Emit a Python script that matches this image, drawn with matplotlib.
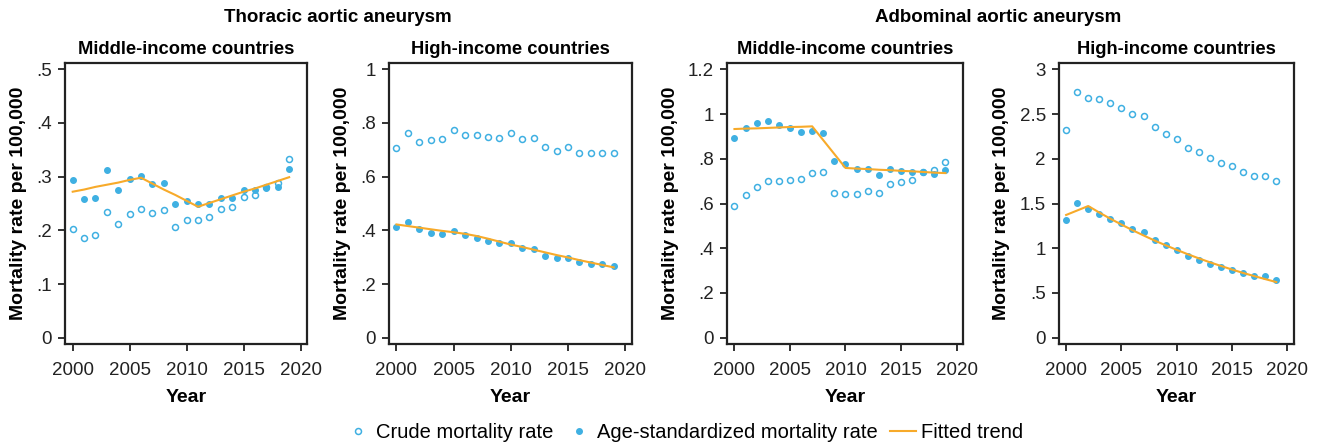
import matplotlib
matplotlib.use("Agg")
import matplotlib.pyplot as plt
from matplotlib.lines import Line2D

plt.rcParams['font.family'] = ['Liberation Sans', 'DejaVu Sans']

years = list(range(2000, 2020))

# Thoracic aortic aneurysm, middle-income countries
tm_crude = [0.203, 0.186, 0.191, 0.234, 0.211, 0.230, 0.239, 0.233, 0.237, 0.207,
            0.220, 0.220, 0.224, 0.240, 0.244, 0.263, 0.266, 0.280, 0.288, 0.333]
tm_age = [0.293, 0.258, 0.260, 0.312, 0.276, 0.295, 0.301, 0.286, 0.288, 0.250,
          0.255, 0.250, 0.249, 0.261, 0.260, 0.275, 0.275, 0.279, 0.280, 0.314]
tm_trend = [0.272, 0.276, 0.281, 0.285, 0.289, 0.294, 0.298, 0.287, 0.276, 0.266,
            0.255, 0.244, 0.251, 0.258, 0.265, 0.272, 0.278, 0.285, 0.292, 0.299]

# Thoracic aortic aneurysm, high-income countries
th_crude = [0.706, 0.763, 0.729, 0.738, 0.739, 0.774, 0.757, 0.757, 0.748, 0.743,
            0.763, 0.742, 0.744, 0.711, 0.697, 0.709, 0.687, 0.687, 0.689, 0.687]
th_age = [0.412, 0.431, 0.405, 0.391, 0.388, 0.398, 0.381, 0.373, 0.360, 0.352,
          0.352, 0.334, 0.330, 0.306, 0.296, 0.298, 0.283, 0.273, 0.275, 0.267]
th_trend = [0.422, 0.416, 0.410, 0.404, 0.398, 0.393, 0.387, 0.379, 0.369, 0.358,
            0.347, 0.338, 0.328, 0.318, 0.308, 0.299, 0.289, 0.280, 0.271, 0.262]

# Abdominal aortic aneurysm, middle-income countries
am_crude = [0.589, 0.638, 0.674, 0.701, 0.701, 0.707, 0.708, 0.735, 0.739, 0.645,
            0.643, 0.643, 0.657, 0.648, 0.686, 0.698, 0.705, 0.742, 0.750, 0.786]
am_age = [0.894, 0.936, 0.959, 0.969, 0.950, 0.936, 0.918, 0.926, 0.917, 0.792,
          0.777, 0.753, 0.753, 0.729, 0.754, 0.747, 0.739, 0.742, 0.730, 0.750]
am_trend = [0.933, 0.935, 0.936, 0.938, 0.940, 0.942, 0.943, 0.945, 0.883, 0.821,
            0.759, 0.756, 0.754, 0.751, 0.749, 0.746, 0.744, 0.741, 0.738, 0.736]

# Abdominal aortic aneurysm, high-income countries
ah_crude = [2.322, 2.743, 2.676, 2.665, 2.624, 2.572, 2.497, 2.482, 2.352, 2.274,
            2.218, 2.124, 2.080, 2.009, 1.953, 1.916, 1.852, 1.808, 1.808, 1.748]
ah_age = [1.316, 1.502, 1.439, 1.383, 1.331, 1.282, 1.211, 1.181, 1.088, 1.032,
          0.977, 0.913, 0.872, 0.824, 0.786, 0.760, 0.719, 0.690, 0.686, 0.648]
ah_trend = [1.372, 1.422, 1.472, 1.399, 1.330, 1.265, 1.202, 1.143, 1.086, 1.033,
            0.982, 0.933, 0.887, 0.843, 0.802, 0.762, 0.724, 0.689, 0.655, 0.622]

tm_ticks = [0, 0.1, 0.2, 0.3, 0.4, 0.5]
tm_labels = ['0', '.1', '.2', '.3', '.4', '.5']
th_ticks = [0, 0.2, 0.4, 0.6, 0.8, 1.0]
th_labels = ['0', '.2', '.4', '.6', '.8', '1']
am_ticks = [0, 0.2, 0.4, 0.6, 0.8, 1.0, 1.2]
am_labels = ['0', '.2', '.4', '.6', '.8', '1', '1.2']
ah_ticks = [0, 0.5, 1.0, 1.5, 2.0, 2.5, 3.0]
ah_labels = ['0', '.5', '1', '1.5', '2', '2.5', '3']
x_ticks = [2000, 2005, 2010, 2015, 2020]

blue = '#3fb0e2'
orange = '#f7aa2a'

panels = [
    ('Middle-income countries', tm_crude, tm_age, tm_trend, tm_ticks, tm_labels),
    ('High-income countries', th_crude, th_age, th_trend, th_ticks, th_labels),
    ('Middle-income countries', am_crude, am_age, am_trend, am_ticks, am_labels),
    ('High-income countries', ah_crude, ah_age, ah_trend, ah_ticks, ah_labels),
]
lefts = [0.0491, 0.2925, 0.5468, 0.7962]
widths = [0.182, 0.1827, 0.1774, 0.1767]

fig = plt.figure(figsize=(13.3, 4.46), dpi=100)

for (title, crude, age, trend, yt, yl), l, w in zip(panels, lefts, widths):
    ax = fig.add_axes([l, 0.228, w, 0.6314])
    ax.plot(years, crude, 'o', ms=4.3, mfc='white', mec=blue, mew=1.1, ls='none')
    ax.plot(years, age, 'o', ms=4.0, color=blue, ls='none')
    ax.plot(years, trend, color=orange, lw=1.5)
    top = yt[-1]
    ax.set_ylim(-0.0246 * top, 1.0246 * top)
    ax.set_xlim(1999.35, 2020.6)
    ax.set_yticks(yt)
    ax.set_yticklabels(yl)
    ax.set_xticks(x_ticks)
    ax.tick_params(labelsize=13.5, length=5, width=1.3, color='#222222',
                   labelcolor='#222222')
    ax.tick_params(axis='x', pad=8)
    ax.tick_params(axis='y', pad=4.5)
    for s in ax.spines.values():
        s.set_linewidth(1.6)
        s.set_color('#222222')
    ax.set_title(title, fontsize=13.2, fontweight='bold', pad=6)
    ax.set_xlabel('Year', fontsize=14, fontweight='bold', labelpad=7)
    ax.set_ylabel('Mortality rate per 100,000', fontsize=14, fontweight='bold',
                  labelpad=6.5)

fig.text(338 / 1330, 1 - 18 / 446, 'Thoracic aortic aneurysm', ha='center',
         va='center', fontsize=13.5, fontweight='bold')
fig.text(998 / 1330, 1 - 18 / 446, 'Adbominal aortic aneurysm', ha='center',
         va='center', fontsize=13.5, fontweight='bold')

handles = [
    Line2D([], [], marker='o', ls='none', ms=4.3, mfc='white', mec=blue, mew=1.1),
    Line2D([], [], marker='o', ls='none', ms=4.0, color=blue),
    Line2D([], [], color=orange, lw=1.5),
]
fig.legend(handles, ['Crude mortality rate', 'Age-standardized mortality rate',
                     'Fitted trend'],
           loc='center', bbox_to_anchor=(684 / 1330, 1 - 433 / 446), ncol=3,
           frameon=False, fontsize=14.5, handlelength=1.3, handletextpad=0.25,
           columnspacing=0.6)

fig.savefig('out.png', dpi=100)
